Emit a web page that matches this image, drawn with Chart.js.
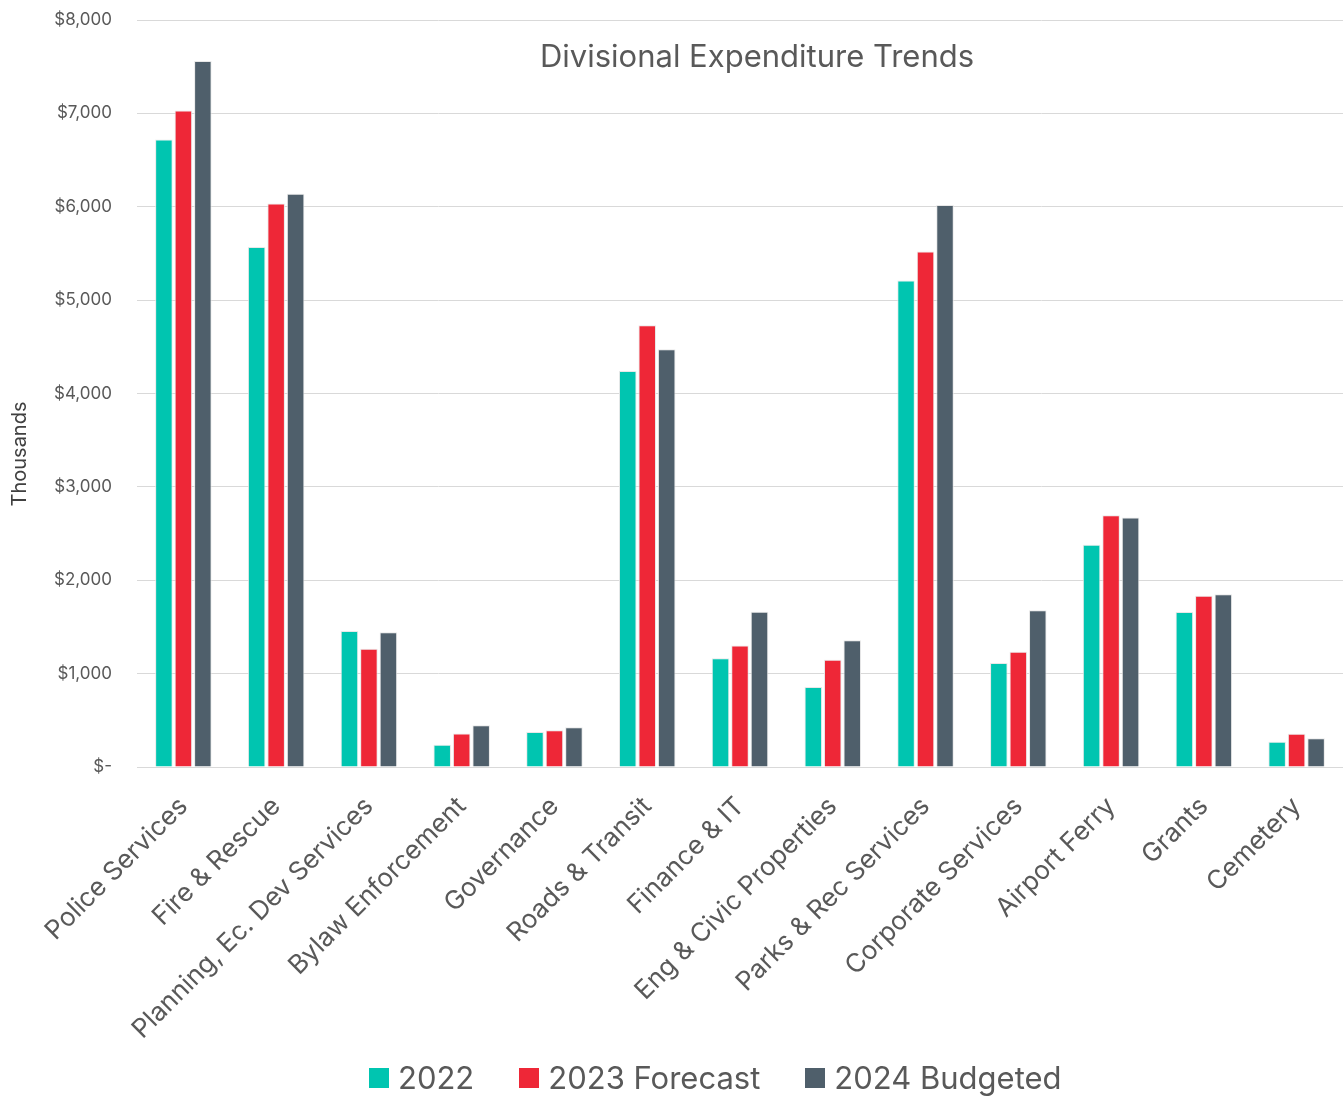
<!DOCTYPE html>
<html>
<head>
<meta charset="utf-8">
<script src="https://cdn.jsdelivr.net/npm/chart.js@4.4.0/dist/chart.umd.min.js"></script>
<style>
  html, body { margin: 0; padding: 0; background: #ffffff; overflow: hidden; }
  #wrap { position: relative; width: 1343px; height: 1097px; }
  #legend { position: absolute; left: 369px; top: 1059px; display: flex; align-items: center; gap: 45px;
            font-family: Inter, 'Open Sans', sans-serif; font-size: 31px; color: #595959; line-height: 38px; white-space: nowrap; }
  #legend .item { display: flex; align-items: center; }
  #legend .box { width: 20px; height: 20px; margin-right: 9px; }
</style>
</head>
<body>
<div id="wrap"><canvas id="c"></canvas><div id="legend"></div></div>
<script>
const chartTitle = "Divisional Expenditure Trends";
const yAxisTitle = "Thousands";
const categories = ["Police Services", "Fire & Rescue", "Planning, Ec. Dev Services", "Bylaw Enforcement", "Governance", "Roads & Transit", "Finance & IT", "Eng & Civic Properties", "Parks & Rec Services", "Corporate Services", "Airport Ferry", "Grants", "Cemetery"];
const seriesNames = ["2022", "2023 Forecast", "2024 Budgeted"];
const values2022 = [6720, 5570, 1456, 239, 375, 4240, 1164, 857, 5210, 1113, 2380, 1660, 271];
const values2023 = [7030, 6035, 1267, 360, 393, 4730, 1300, 1149, 5520, 1235, 2695, 1834, 357];
const values2024 = [7560, 6140, 1442, 446, 425, 4475, 1663, 1357, 6020, 1678, 2673, 1849, 307];
const yTicks = [0, 1000, 2000, 3000, 4000, 5000, 6000, 7000, 8000];

const colors = ["#00C5B0", "#EE2737", "#4F5F6B"];
const textColor = "#595959";
const fontFamily = "Inter, 'Open Sans', sans-serif";

const overlayText = {
  id: 'overlayText',
  afterDraw(chart) {
    const ctx = chart.ctx;
    ctx.save();
    ctx.fillStyle = textColor;
    ctx.font = "31px " + fontFamily;
    ctx.textAlign = "center";
    ctx.textBaseline = "middle";
    ctx.fillText(chartTitle, 757, 58);
    ctx.fillStyle = "#404040";
    ctx.font = "20px " + fontFamily;
    ctx.translate(20, 454);
    ctx.rotate(-Math.PI / 2);
    ctx.fillText(yAxisTitle, 0, 0);
    ctx.restore();
  }
};

const dataSets = [values2022, values2023, values2024].map((vals, i) => ({
  label: seriesNames[i],
  data: vals,
  backgroundColor: colors[i],
  borderColor: "rgba(230,230,230,0.9)",
  borderWidth: 1,
  barPercentage: 0.9,
  categoryPercentage: 0.63
}));

const chart = new Chart(document.getElementById('c'), {
  type: 'bar',
  data: { labels: categories, datasets: dataSets },
  plugins: [overlayText],
  options: {
    responsive: true,
    maintainAspectRatio: false,
    animation: false,
    layout: { padding: { top: 20, right: 0, left: 0, bottom: 0 } },
    plugins: {
      title: { display: false },
      tooltip: { enabled: false },
      legend: { display: false }
    },
    scales: {
      x: {
        grid: { display: false, drawTicks: false },
        border: { color: "#d9d9d9", width: 1 },
        ticks: {
          color: textColor,
          font: { size: 26, family: fontFamily },
          minRotation: 45,
          maxRotation: 45,
          autoSkip: false,
          padding: 24
        },
        afterFit(scale) {
          scale.height = scale.chart.height - 767;
        }
      },
      y: {
        min: 0,
        max: 8000,
        afterBuildTicks(scale) {
          scale.ticks = yTicks.map(v => ({ value: v }));
        },
        grid: { color: "#d9d9d9", drawTicks: true, tickLength: 25, tickColor: "rgba(0,0,0,0)" },
        border: { display: false },
        ticks: {
          color: textColor,
          font: { size: 17, family: fontFamily },
          padding: 0,
          callback: v => v === 0 ? "$-" : "$" + v.toLocaleString('en-US')
        },
        afterFit(scale) {
          scale.width = 137;
        }
      }
    }
  }
});

// HTML legend built from the chart's datasets
const legendEl = document.getElementById('legend');
chart.data.datasets.forEach(ds => {
  const item = document.createElement('div');
  item.className = 'item';
  const box = document.createElement('span');
  box.className = 'box';
  box.style.background = ds.backgroundColor;
  const txt = document.createElement('span');
  txt.textContent = ds.label;
  item.appendChild(box);
  item.appendChild(txt);
  legendEl.appendChild(item);
});
</script>
</body>
</html>
